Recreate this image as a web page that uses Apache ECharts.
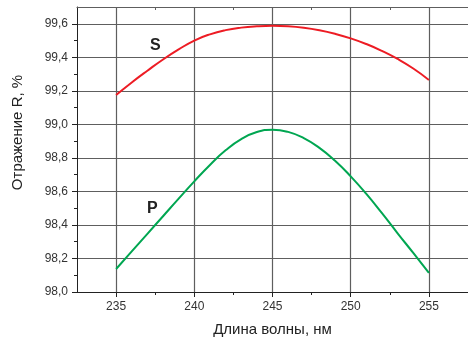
<!DOCTYPE html>
<html><head><meta charset="utf-8">
<script src="https://cdn.jsdelivr.net/npm/echarts@6/dist/echarts.min.js"></script>
<style>html,body{margin:0;padding:0;background:#fff}#c{width:468px;height:342px}</style>
</head><body><div id="c"></div>
<script>
const wavelengths = [235,236,237,238,239,240,241,242,243,244,245,246,247,248,249,250,251,252,253,254,255];
const sValues = [99.175,99.25,99.32,99.387,99.447,99.500,99.537,99.562,99.577,99.585,99.588,99.585,99.576,99.561,99.540,99.513,99.479,99.438,99.390,99.333,99.265];
const pValues = [98.137,98.242,98.347,98.452,98.557,98.660,98.758,98.845,98.912,98.954,98.968,98.955,98.918,98.860,98.783,98.690,98.585,98.470,98.350,98.233,98.114];
const xMajor = [235,240,245,250,255];
const xMinor = [237.5,242.5,247.5,252.5];
const yMajor = [98.0,98.2,98.4,98.6,98.8,99.0,99.2,99.4,99.6];
const yMinor = [98.1,98.3,98.5,98.7,98.9,99.1,99.3,99.5];
const seriesNames = ['S','P'];

const chart = echarts.init(document.getElementById('c'));
const font = 'Liberation Sans, Arial, sans-serif';
const gridCol = '#5e5e5e';
const fmt = v => v.toFixed(1).replace('.', ',');
const zip = (xs, ys) => xs.map((x,i)=>[x, ys[i]]);

chart.setOption({
  animation: false,
  grid: {left: 77, right: 0, top: 7, bottom: 45},
  xAxis: [
    {type:'value', min:232.5, max:257.5, position:'bottom',
     name:'Длина волны, нм', nameLocation:'middle', nameGap:30,
     nameTextStyle:{fontFamily:font, fontSize:15, color:'#222'},
     axisLine:{show:true, onZero:false, lineStyle:{color:'#222', width:1}},
     axisTick:{show:true, customValues:xMajor, length:5, lineStyle:{color:'#222'}},
     axisLabel:{customValues:xMajor, fontFamily:font, fontSize:12, color:'#333', margin:9},
     splitLine:{show:true, lineStyle:{color:gridCol, width:1.2}}},
    {type:'value', min:232.5, max:257.5, position:'bottom',
     axisLine:{show:false, onZero:false},
     axisTick:{show:true, customValues:xMinor, length:3, lineStyle:{color:'#222'}},
     axisLabel:{show:false}, splitLine:{show:false}},
    {type:'value', min:232.5, max:257.5, position:'top',
     axisLine:{show:true, onZero:false, lineStyle:{color:gridCol, width:1.2}},
     axisTick:{show:true, inside:true, customValues:xMinor, length:3, lineStyle:{color:gridCol}},
     axisLabel:{show:false}, splitLine:{show:false}}
  ],
  yAxis: [
    {type:'value', min:98.0, max:99.7, position:'left',
     name:'Отражение R, %', nameLocation:'middle', nameGap:52,
     nameTextStyle:{fontFamily:font, fontSize:15, color:'#222', padding:[0,0,0,34]},
     axisLine:{show:true, onZero:false, lineStyle:{color:'#222', width:1}},
     axisTick:{show:true, customValues:yMajor, length:5, lineStyle:{color:'#222'}},
     axisLabel:{customValues:yMajor, formatter:fmt, fontFamily:font, fontSize:12, color:'#333', margin:9},
     splitLine:{show:true, lineStyle:{color:gridCol, width:1.2}}},
    {type:'value', min:98.0, max:99.7, position:'left',
     axisLine:{show:false, onZero:false},
     axisTick:{show:true, customValues:yMinor, length:3, lineStyle:{color:'#222'}},
     axisLabel:{show:false}, splitLine:{show:false}}
  ],
  series: [
    {name:seriesNames[0], type:'line', data:zip(wavelengths, sValues), smooth:true, showSymbol:false,
     lineStyle:{color:'#ed1c24', width:2}, xAxisIndex:0, yAxisIndex:0},
    {name:seriesNames[1], type:'line', data:zip(wavelengths, pValues), smooth:true, showSymbol:false,
     lineStyle:{color:'#00a651', width:2}, xAxisIndex:0, yAxisIndex:0}
  ],
  graphic: [
    {type:'text', left:150, top:38, style:{text:seriesNames[0], font:'bold 16px '+font, fill:'#222'}},
    {type:'text', left:147, top:201, style:{text:seriesNames[1], font:'bold 16px '+font, fill:'#222'}}
  ]
});
</script></body></html>
